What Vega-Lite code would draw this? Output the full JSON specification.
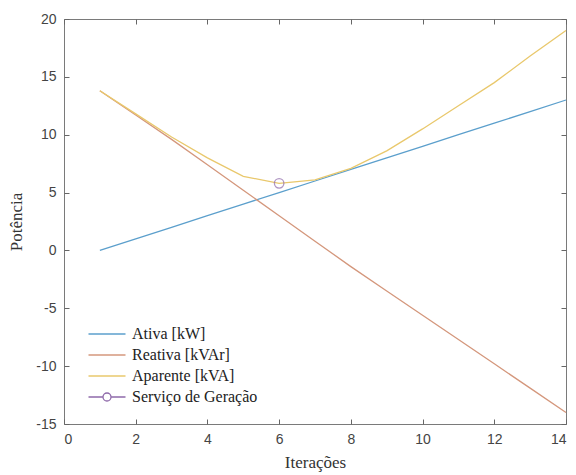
{
  "$schema": "https://vega.github.io/schema/vega-lite/v6.json",
  "width": 502,
  "height": 405,
  "autosize": {"type": "none"},
  "padding": {"left": 64, "top": 19, "right": 10, "bottom": 51},
  "background": "white",
  "config": {
    "view": {"stroke": "#7a7a7a", "strokeWidth": 1},
    "axis": {
      "grid": false,
      "domain": false,
      "ticks": true,
      "tickColor": "#666666",
      "tickWidth": 1,
      "tickSize": 5,
      "offset": -5,
      "labelFont": "Liberation Sans",
      "labelFontSize": 14,
      "labelColor": "#444444",
      "labelPadding": 8,
      "labelExpr": "datum.value + ''",
      "titleFont": "Liberation Serif",
      "titleFontSize": 17,
      "titleFontWeight": "normal",
      "titleColor": "#333333"
    },
    "legend": {"labelFont": "Liberation Serif", "labelFontSize": 16}
  },
  "data": {
    "values": [
      {"it": 1, "v": 0, "series": "Ativa [kW]"},
      {"it": 2, "v": 1, "series": "Ativa [kW]"},
      {"it": 3, "v": 2, "series": "Ativa [kW]"},
      {"it": 4, "v": 3, "series": "Ativa [kW]"},
      {"it": 5, "v": 4, "series": "Ativa [kW]"},
      {"it": 6, "v": 5, "series": "Ativa [kW]"},
      {"it": 7, "v": 6, "series": "Ativa [kW]"},
      {"it": 8, "v": 7, "series": "Ativa [kW]"},
      {"it": 9, "v": 8, "series": "Ativa [kW]"},
      {"it": 10, "v": 9, "series": "Ativa [kW]"},
      {"it": 11, "v": 10, "series": "Ativa [kW]"},
      {"it": 12, "v": 11, "series": "Ativa [kW]"},
      {"it": 13, "v": 12, "series": "Ativa [kW]"},
      {"it": 14, "v": 13, "series": "Ativa [kW]"},
      {"it": 1, "v": 13.8, "series": "Reativa [kVAr]"},
      {"it": 2, "v": 11.7, "series": "Reativa [kVAr]"},
      {"it": 3, "v": 9.6, "series": "Reativa [kVAr]"},
      {"it": 4, "v": 7.4, "series": "Reativa [kVAr]"},
      {"it": 5, "v": 5.2, "series": "Reativa [kVAr]"},
      {"it": 6, "v": 3.0, "series": "Reativa [kVAr]"},
      {"it": 7, "v": 0.8, "series": "Reativa [kVAr]"},
      {"it": 8, "v": -1.4, "series": "Reativa [kVAr]"},
      {"it": 9, "v": -3.5, "series": "Reativa [kVAr]"},
      {"it": 10, "v": -5.6, "series": "Reativa [kVAr]"},
      {"it": 11, "v": -7.7, "series": "Reativa [kVAr]"},
      {"it": 12, "v": -9.8, "series": "Reativa [kVAr]"},
      {"it": 13, "v": -11.9, "series": "Reativa [kVAr]"},
      {"it": 14, "v": -14.0, "series": "Reativa [kVAr]"},
      {"it": 1, "v": 13.8, "series": "Aparente [kVA]"},
      {"it": 2, "v": 11.8, "series": "Aparente [kVA]"},
      {"it": 3, "v": 9.8, "series": "Aparente [kVA]"},
      {"it": 4, "v": 8.0, "series": "Aparente [kVA]"},
      {"it": 5, "v": 6.4, "series": "Aparente [kVA]"},
      {"it": 6, "v": 5.8, "series": "Aparente [kVA]"},
      {"it": 7, "v": 6.1, "series": "Aparente [kVA]"},
      {"it": 8, "v": 7.1, "series": "Aparente [kVA]"},
      {"it": 9, "v": 8.6, "series": "Aparente [kVA]"},
      {"it": 10, "v": 10.5, "series": "Aparente [kVA]"},
      {"it": 11, "v": 12.5, "series": "Aparente [kVA]"},
      {"it": 12, "v": 14.5, "series": "Aparente [kVA]"},
      {"it": 13, "v": 16.8, "series": "Aparente [kVA]"},
      {"it": 14, "v": 19.0, "series": "Aparente [kVA]"},
      {"it": 6, "v": 5.8, "series": "Serviço de Geração"}
    ]
  },
  "layer": [
    {
      "transform": [{"filter": "datum.series !== 'Serviço de Geração'"}],
      "mark": {"type": "line", "strokeWidth": 1.3},
      "encoding": {
        "x": {"field": "it", "type": "quantitative", "scale": {"domain": [0, 14], "nice": false},
              "axis": {"values": [0, 2, 4, 6, 8, 10, 12, 14], "title": "Iterações", "titlePadding": 8}},
        "y": {"field": "v", "type": "quantitative", "scale": {"domain": [-15, 20], "nice": false},
              "axis": {"values": [-15, -10, -5, 0, 5, 10, 15, 20], "title": "Potência", "titlePadding": 10}},
        "color": {
          "field": "series", "type": "nominal",
          "scale": {
            "domain": ["Ativa [kW]", "Reativa [kVAr]", "Aparente [kVA]", "Serviço de Geração"],
            "range": ["#5b9fcc", "#d4977c", "#e9c86c", "#8f6aaa"]
          },
          "legend": {
            "title": null,
            "orient": "none",
            "legendX": 32,
            "legendY": 304,
            "padding": 0,
            "symbolSize": 400,
            "symbolStrokeWidth": 1.3,
            "labelFont": "Liberation Serif",
            "labelFontSize": 16,
            "labelColor": "#222222",
            "labelOffset": 14,
            "rowPadding": 2,
            "labelLimit": 300,
            "encode": {
              "symbols": {
                "update": {
                  "shape": {"signal": "datum.label === 'Serviço de Geração' ? 'M-1.85,0L-0.4,0M0.4,0L1.85,0M0.4,0A0.4,0.4 0 1 1 -0.4,0A0.4,0.4 0 1 1 0.4,0' : 'M-1.85,0L1.85,0'"},
                  "fill": {"value": "transparent"}
                }
              }
            }
          }
        },
        "order": {"field": "it"}
      }
    },
    {
      "transform": [{"filter": "datum.series === 'Serviço de Geração'"}],
      "mark": {"type": "point", "shape": "circle", "filled": false, "size": 90, "strokeWidth": 1.3},
      "encoding": {
        "x": {"field": "it", "type": "quantitative",
              "axis": {"values": [0, 2, 4, 6, 8, 10, 12, 14], "labels": false, "title": null}},
        "y": {"field": "v", "type": "quantitative",
              "axis": {"values": [-15, -10, -5, 0, 5, 10, 15, 20], "labels": false, "title": null}},
        "color": {"field": "series", "type": "nominal"}
      }
    }
  ],
  "resolve": {"axis": {"x": "independent", "y": "independent"}}
}
